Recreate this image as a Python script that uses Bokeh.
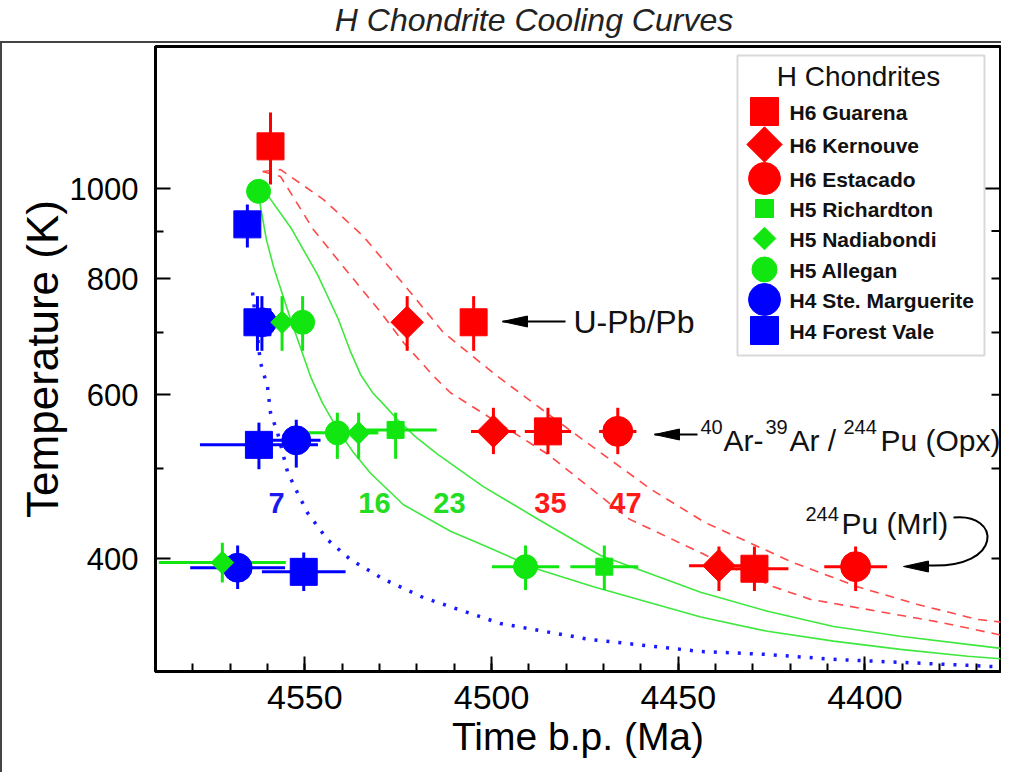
import math
from bokeh.plotting import figure
from bokeh.models import Range1d, FixedTicker, Label, BoxAnnotation, Div, PrintfTickFormatter
from bokeh.layouts import column
from bokeh.embed import file_html
from bokeh.resources import INLINE

FONT = "Liberation Sans"

# ---------------- data (age in Ma, temperature in K) ----------------
guarena_age = [4559.2, 4504.8, 4484.9, 4429.6]
guarena_T = [1110, 718, 548, 390]
guarena_age_err = [3, 0, 6.2, 9.1]
guarena_T_lo = [1010, 669, 518, 369]
guarena_T_hi = [1207, 766, 581, 412]

kernouve_age = [4522.6, 4499.5, 4439.1]
kernouve_T = [718, 548, 393]
kernouve_age_err = [0, 6, 8]
kernouve_T_lo = [669, 518, 369]
kernouve_T_hi = [766, 581, 412]

estacado_age = [4466.2, 4402.5]
estacado_T = [548, 392]
estacado_age_err = [5, 8.4]
estacado_T_lo = [518, 369]
estacado_T_hi = [581, 412]

richardton_age = [4525.7, 4469.8]
richardton_T = [550, 392]
richardton_age_err = [11, 9.1]
richardton_T_lo = [512, 370]
richardton_T_hi = [574, 413]

nadiabondi_age = [4556.1, 4535.6, 4572.1]
nadiabondi_T = [718, 546, 396]
nadiabondi_age_err = [0, 5, 17]
nadiabondi_T_lo = [669, 512, 377]
nadiabondi_T_hi = [766, 574, 416]

allegan_age = [4562.4, 4550.6, 4541.3, 4490.9]
allegan_T = [993, 718, 546, 392]
allegan_age_err = [0, 0, 11, 9]
allegan_T_lo = [993, 669, 512, 370]
allegan_T_hi = [993, 766, 574, 413]

stemarg_age = [4561.5, 4552.3, 4568.0]
stemarg_T = [718, 536, 391]
stemarg_age_err = [0, 6.5, 12.7]
stemarg_T_lo = [669, 501, 371]
stemarg_T_hi = [766, 564, 413]

forestvale_age = [4565.4, 4562.7, 4562.3, 4550.3]
forestvale_T = [915, 718, 530, 387]
forestvale_age_err = [0, 0, 15.8, 11.2]
forestvale_T_lo = [864, 669, 499, 369]
forestvale_T_hi = [961, 766, 560, 406]

# cooling curves (labelled 7, 16, 23, 35, 47)
curve47_age = [4561.3, 4556.5, 4545.0, 4534.3, 4521.7, 4512.9, 4498.4, 4479.4, 4457.4,
               4442.7, 4431.5, 4419.9, 4402.0, 4385.9, 4369.9, 4362.9]
curve47_T = [1043, 1048, 973, 888, 773, 700, 628, 551, 475, 437, 417, 397, 373, 357, 344, 341.5]

curve35_age = [4561.3, 4556.5, 4547.7, 4539.7, 4529.7, 4523.6, 4515.5, 4511.0, 4485.0,
               4463.1, 4449.7, 4434.4, 4424.5, 4414.6, 4396.6, 4379.8, 4363.7]
curve35_T = [1043, 1030, 903, 824, 736, 683, 628, 603, 518, 441, 416, 389, 373, 361.5, 351, 341.5, 331]

curve23_age = [4562.4, 4559.7, 4553.8, 4546.6, 4541.0, 4537.8, 4535.1, 4531.9, 4528.4, 4525.2,
               4520.4, 4514.5, 4502.2, 4487.2, 4470.8, 4444.0, 4426.1, 4408.4, 4390.5, 4372.5, 4361.5]
curve23_T = [993, 980, 908, 808, 723, 668, 631, 603.5, 583, 564, 541, 518, 478, 440, 403, 368,
             351, 338, 330, 323.4, 319.4]

curve16_age = [4562.4, 4561.9, 4560.3, 4558.4, 4553.8, 4548.5, 4545.3, 4541.3, 4537.2, 4532.4,
               4523.6, 4511.0, 4501.4, 4487.2, 4472.7, 4444.0, 4426.1, 4408.4, 4390.5, 4372.5, 4361.5]
curve16_T = [993, 957, 881, 824, 723, 628, 588, 551, 521.5, 494, 457, 428, 412, 389, 373, 346,
             334, 326, 319.4, 314, 311.6]

curve7_age = [4564.0, 4561.9, 4560.0, 4559.2, 4557.3, 4554.6, 4552.0, 4549.3, 4543.9,
              4537.8, 4528.9, 4518.2, 4497.6, 4473.8, 4444.3, 4426.1, 4408.4, 4390.5, 4372.5, 4361.5]
curve7_T = [773, 650, 612, 574, 546, 495, 471, 448, 419, 399, 380, 363, 340.5, 327.4, 317.8,
            315.4, 311.6, 309.3, 307, 305.5]

x_major_ticks = [4400, 4450, 4500, 4550]
y_major_ticks = [400, 600, 800, 1000]
y_minor_ticks = [500, 700, 900]


# ---------------- helpers: reference-pixel placement for annotations ----------------
def X(px):
    return 4590.0 - (px - 155.0) / 3.734


def Y(py):
    return 1000.0 * 10 ** ((189.0 - py) / 929.8)


RED, GREEN, BLUE = "#ff0000", "#11e611", "#0000ff"

p = figure(width=1001, height=731,
           x_range=Range1d(4590, X(1000)), y_range=Range1d(Y(672), Y(47)),
           y_axis_type="log", output_backend="svg", toolbar_location=None,
           min_border_left=153, min_border_right=3, min_border_top=3, min_border_bottom=103)
p.styles = {"border-left": "2px solid #444", "border-top": "2px solid #444"}
p.xgrid.visible = False
p.ygrid.visible = False
p.outline_line_color = "black"
p.outline_line_width = 3
p.background_fill_color = "white"
p.border_fill_color = "white"

# x axis
xa = p.xaxis[0]
xa.ticker = FixedTicker(ticks=x_major_ticks, minor_ticks=list(range(4370, 4590, 10)))
xa.axis_line_width = 3
xa.major_tick_in = 15
xa.major_tick_out = 0
xa.minor_tick_in = 8
xa.minor_tick_out = 0
xa.major_tick_line_width = 2
xa.minor_tick_line_width = 2
xa.major_label_text_font = FONT
xa.major_label_text_font_size = "34px"
xa.major_label_text_color = "black"
xa.major_label_standoff = 14
xa.axis_label = "Time b.p. (Ma)"
xa.axis_label_text_font = FONT
xa.axis_label_text_font_size = "39px"
xa.axis_label_text_font_style = "normal"
xa.axis_label_text_color = "black"
xa.axis_label_standoff = 3

# y axis (log)
ya = p.yaxis[0]
ya.ticker = FixedTicker(ticks=y_major_ticks, minor_ticks=y_minor_ticks)
ya.formatter = PrintfTickFormatter(format="%d")
ya.axis_line_width = 3
ya.major_tick_in = 15
ya.major_tick_out = 0
ya.minor_tick_in = 8
ya.minor_tick_out = 0
ya.major_tick_line_width = 2
ya.minor_tick_line_width = 2
ya.major_label_text_font = FONT
ya.major_label_text_font_size = "31px"
ya.major_label_text_color = "black"
ya.major_label_standoff = 17
ya.axis_label = "Temperature (K)"
ya.axis_label_text_font = FONT
ya.axis_label_text_font_size = "44px"
ya.axis_label_text_font_style = "normal"
ya.axis_label_text_color = "black"
ya.axis_label_standoff = 0

# right-hand frame ticks (inward)
right_ticks = y_minor_ticks + y_major_ticks
p.segment(x0=[X(1000 - (15 if t == 1000 else 9)) for t in right_ticks], y0=right_ticks,
          x1=[X(1000)] * len(right_ticks), y1=right_ticks, line_color="black", line_width=2)

# ---------------- cooling curves ----------------
p.line(curve47_age, curve47_T, line_color="#ff4848", line_width=1.6, line_dash="9 7")
p.line(curve35_age, curve35_T, line_color="#ff4848", line_width=1.6, line_dash="9 7")
p.line(curve23_age, curve23_T, line_color="#3ee83e", line_width=1.6)
p.line(curve16_age, curve16_T, line_color="#3ee83e", line_width=1.6)
p.line(curve7_age, curve7_T, line_color="#1a1aff", line_width=3.5, line_dash="3 9")

# ---------------- data with error bars ----------------
series = [
    (forestvale_age, forestvale_T, forestvale_age_err, forestvale_T_lo, forestvale_T_hi, BLUE, "square", 27, 0),
    (stemarg_age, stemarg_T, stemarg_age_err, stemarg_T_lo, stemarg_T_hi, BLUE, "circle", 29, 0),
    (allegan_age, allegan_T, allegan_age_err, allegan_T_lo, allegan_T_hi, GREEN, "circle", 24, 0),
    (nadiabondi_age, nadiabondi_T, nadiabondi_age_err, nadiabondi_T_lo, nadiabondi_T_hi, GREEN, "square", 16, math.pi / 4),
    (richardton_age, richardton_T, richardton_age_err, richardton_T_lo, richardton_T_hi, GREEN, "square", 17, 0),
    (estacado_age, estacado_T, estacado_age_err, estacado_T_lo, estacado_T_hi, RED, "circle", 30, 0),
    (kernouve_age, kernouve_T, kernouve_age_err, kernouve_T_lo, kernouve_T_hi, RED, "square", 23, math.pi / 4),
    (guarena_age, guarena_T, guarena_age_err, guarena_T_lo, guarena_T_hi, RED, "square", 27, 0),
]
for age, T, aerr, lo, hi, color, marker, size, ang in series:
    p.segment(x0=[a - e for a, e in zip(age, aerr)], y0=T,
              x1=[a + e for a, e in zip(age, aerr)], y1=T, line_color=color, line_width=3)
    p.segment(x0=age, y0=lo, x1=age, y1=hi, line_color=color, line_width=3)
for age, T, aerr, lo, hi, color, marker, size, ang in series:
    p.scatter(age, T, marker=marker, size=size, angle=ang, fill_color=color, line_color=color)

# ---------------- curve labels ----------------
for txt, px, col in [("7", 276, "#1a1aee"), ("16", 374, "#22dd22"), ("23", 449, "#22dd22"),
                     ("35", 550, "#ff1a1a"), ("47", 625, "#ff1a1a")]:
    p.add_layout(Label(x=X(px), y=Y(503), text=txt, text_font=FONT, text_font_size="29px",
                       text_font_style="bold", text_color=col, text_align="center",
                       text_baseline="middle"))


# ---------------- annotations ----------------
def arrow_head(tip_px, tip_py, length=25, half=5.5):
    xs = [X(tip_px), X(tip_px + length), X(tip_px + length)]
    ys = [Y(tip_py), Y(tip_py - half), Y(tip_py + half)]
    p.patch(xs, ys, fill_color="black", line_color="black")


p.line([X(502), X(565)], [Y(322), Y(322)], line_color="black", line_width=2)
arrow_head(502, 322)
p.add_layout(Label(x=X(573), y=Y(322), text="U-Pb/Pb", text_font=FONT, text_font_size="32px",
                   text_color="#111", text_baseline="middle"))

p.line([X(654), X(697)], [Y(435), Y(435)], line_color="black", line_width=2)
arrow_head(654, 435)
for txt, px, sup in [("40", 700, True), ("Ar-", 723, False), ("39", 765, True), ("Ar / ", 789, False),
                     ("244", 843, True), ("Pu (Opx)", 880, False)]:
    p.add_layout(Label(x=X(px), y=Y(427 if sup else 441), text=txt, text_font=FONT,
                       text_font_size="20px" if sup else "30px", text_color="#111",
                       text_baseline="middle"))

for txt, px, sup in [("244", 805, True), ("Pu (Mrl)", 841, False)]:
    p.add_layout(Label(x=X(px), y=Y(514 if sup else 524), text=txt, text_font=FONT,
                       text_font_size="20px" if sup else "30px", text_color="#111",
                       text_baseline="middle"))
p.bezier(x0=[X(953)], y0=[Y(518)], x1=[X(928)], y1=[Y(566)],
         cx0=[X(1000)], cy0=[Y(513)], cx1=[X(1004)], cy1=[Y(569)],
         line_color="black", line_width=2)
arrow_head(903, 567)

# ---------------- legend ----------------
p.add_layout(BoxAnnotation(left=X(737), right=X(984), top=Y(56), bottom=Y(356),
                           fill_color="white", fill_alpha=1.0, line_color="#808080",
                           line_width=2, level="underlay"))
p.add_layout(Label(x=X(858), y=Y(77), text="H Chondrites", text_font=FONT, text_font_size="28px",
                   text_color="#111", text_align="center", text_baseline="middle"))
legend_rows = [
    ("H6 Guarena", RED, "square", 28, 0, 112),
    ("H6 Kernouve", RED, "square", 25, math.pi / 4, 145),
    ("H6 Estacado", RED, "circle", 32, 0, 179),
    ("H5 Richardton", GREEN, "square", 18, 0, 209),
    ("H5 Nadiabondi", GREEN, "square", 16, math.pi / 4, 239),
    ("H5 Allegan", GREEN, "circle", 25, 0, 270),
    ("H4 Ste. Marguerite", BLUE, "circle", 32, 0, 300),
    ("H4 Forest Vale", BLUE, "square", 28, 0, 331),
]
for name, color, marker, size, ang, py in legend_rows:
    p.scatter([X(764)], [Y(py)], marker=marker, size=size, angle=ang, fill_color=color, line_color=color)
    p.add_layout(Label(x=X(789), y=Y(py + 1), text=name, text_font=FONT, text_font_size="21px",
                       text_font_style="bold", text_color="#111", text_baseline="middle"))

title = Div(text='<div style="width:860px;margin-left:99px;text-align:center;'
                 'font-family:\'Liberation Sans\',Arial,sans-serif;font-style:italic;'
                 'font-size:32px;color:#222;white-space:nowrap;line-height:31px;">'
                 'H Chondrite Cooling Curves</div>',
            width=1001, height=31)

layout = column(title, p, spacing=0)
open("out.html", "w").write(file_html(layout, INLINE))
